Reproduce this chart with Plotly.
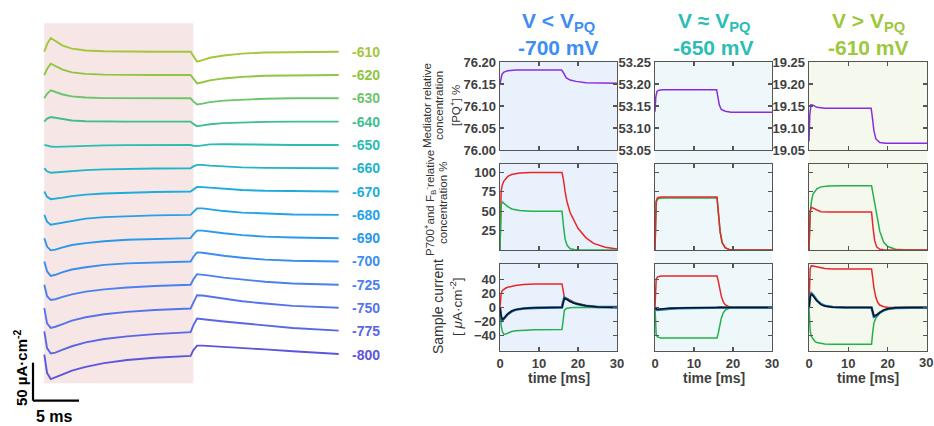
import plotly.graph_objects as go

W, H = 934, 426

# ---------------- Left panel: current traces (µA/cm², relative to baseline) ----------------
voltages = [-610, -620, -630, -640, -650, -660, -670, -680, -690, -700, -725, -750, -775, -800]
trace_colors = ["#a4c639", "#8ec641", "#6cc46c", "#3fbf8e", "#2bbdb0", "#22b5c8", "#1eaddb",
                "#23a3e6", "#2b98ea", "#3a8df0", "#4a80f0", "#5574ec", "#5a66e6", "#5c56dc"]
t_trace = [0, 0.3, 0.7, 1.2, 2, 3, 4.5, 6.5, 9, 12, 15.9, 16.2, 16.6, 17.2, 18, 19.5, 21.5, 24, 27, 32]
cur_m610 = [0, 10, 18, 14, 8, 4, 1.5, 0.5, 0, 0, 0, -6, -13, -11, -8, -5, -2.5, -1, -0.3, 0]
cur_m620 = [0, 8, 15, 12, 7, 3.5, 1.5, 0.5, 0, 0, 0, -5, -11, -9.5, -7, -4.5, -2.5, -1, -0.3, 0]
cur_m630 = [0, 6, 10.5, 8.5, 5, 2.5, 1, 0.3, 0, 0, 0, -4, -8, -7, -5, -3, -1.5, -0.5, 0, 0]
cur_m640 = [0, 4, 6, 5, 3, 1.5, 0.5, 0, 0, 0, 0, -3, -6, -5, -3.5, -2, -1, -0.3, 0, 0]
cur_m650 = [0, -1, -2, -2.5, -2.2, -1.5, -1, -0.6, -0.3, 0, 0, -1, -1.5, -0.5, 0.8, 1, 0.6, 0.3, 0, 0]
cur_m660 = [0, -4, -6, -5.5, -4.5, -3.5, -2.5, -1.5, -0.8, -0.3, 0, 2.5, 4.5, 4.5, 3.5, 2.2, 1.2, 0.5, 0.2, 0]
cur_m670 = [0, -7, -10, -9.5, -8, -6, -4, -2.5, -1.3, -0.5, 0, 3, 6, 5.8, 5, 3.5, 2, 1, 0.3, 0]
cur_m680 = [0, -9, -13, -12, -10, -7.5, -5, -3, -1.6, -0.6, 0, 4, 8.5, 8.5, 7, 5, 3, 1.5, 0.5, 0]
cur_m690 = [0, -11, -16, -15, -12, -9, -6.5, -4, -2, -0.8, 0, 5, 10, 10, 8.5, 6.5, 4, 2, 0.8, 0]
cur_m700 = [0, -13, -19, -17.5, -14, -10.5, -7.5, -4.5, -2.5, -1, 0, 6, 12, 11.5, 10, 7.5, 5, 2.5, 1, 0]
cur_m725 = [0, -15, -20, -19, -16, -12.5, -9, -6, -3.5, -1.5, 0, 7, 14, 13.5, 12, 9.5, 7, 4, 1.8, 0]
cur_m750 = [0, -20, -26, -24.5, -21, -16.5, -12, -8, -5, -2.5, -0.5, 8, 17, 16.5, 15, 12, 9, 6, 3, 0.5]
cur_m775 = [0, -22, -29, -28, -24, -19.5, -14.5, -10, -6.5, -3.5, -1, 8, 17, 16.5, 15, 13, 10.5, 7.5, 4.5, 1]
cur_m800 = [0, -24, -32, -30, -26, -21, -16, -11, -7, -4, -1.5, 6, 12, 12, 11.5, 10.5, 9, 7, 4.5, 1]
all_traces = [cur_m610, cur_m620, cur_m630, cur_m640, cur_m650, cur_m660, cur_m670,
              cur_m680, cur_m690, cur_m700, cur_m725, cur_m750, cur_m775, cur_m800]
pulse_ms = 16.2
scale_bar_uA = 50
scale_bar_ms = 5

# ---------------- Right panels ----------------
col_titles = ["V &lt; V<sub>PQ</sub>", "V ≈ V<sub>PQ</sub>", "V &gt; V<sub>PQ</sub>"]
col_mv = ["-700 mV", "-650 mV", "-610 mV"]
col_title_colors = ["#3d8ef2", "#2cbdb5", "#9dc83c"]
col_bg = ["#e9f2fc", "#eef8fa", "#f5f8ed"]

# Row 1: mediator [PQ+] %
t_med = [0, 0.2, 0.5, 1, 2, 4, 8, 15.8, 16.1, 16.5, 17, 18, 19.5, 22, 26, 30]
med_700 = [76.150, 76.163, 76.172, 76.177, 76.180, 76.182, 76.182, 76.182, 76.178, 76.170,
           76.164, 76.159, 76.156, 76.153, 76.152, 76.152]
med_650 = [53.137, 53.170, 53.183, 53.186, 53.187, 53.187, 53.187, 53.187, 53.172, 53.152,
           53.142, 53.138, 53.136, 53.136, 53.136, 53.136]
med_610 = [19.07, 19.13, 19.153, 19.152, 19.147, 19.145, 19.145, 19.145, 19.125, 19.094,
           19.075, 19.067, 19.065, 19.065, 19.065, 19.065]
med_ranges = [[75.9999, 76.2001], [53.0499, 53.2501], [19.0499, 19.2501]]
med_ticks = [[76.00, 76.05, 76.10, 76.15, 76.20], [53.05, 53.10, 53.15, 53.20, 53.25],
             [19.05, 19.10, 19.15, 19.20, 19.25]]

# Row 2: P700+ (red) and FB- (green) %
t_conc = [0, 0.1, 0.3, 0.6, 1, 2, 3, 5, 8, 15.9, 16.3, 16.7, 17.2, 18, 19, 20, 22, 24, 27, 30]
p700_700 = [0, 55, 76, 84, 89, 95, 97.5, 99.3, 100, 100, 90, 75, 62, 48, 37, 28, 16, 8.5, 3.5, 1.2]
fb_700 = [0, 40, 58, 62, 60, 56, 53, 51, 50, 50, 30, 14, 6, 1.5, 0.5, 0, 0, 0, 0, 0]
p700_650 = [0, 45, 63, 67, 68, 68.5, 68.5, 68.5, 68.5, 68.5, 46, 24, 10, 3, 0.8, 0.2, 0, 0, 0, 0]
fb_650 = [0, 44, 61, 65.5, 66.5, 67, 67, 67, 67, 67, 45, 23, 9.5, 2.8, 0.8, 0.2, 0, 0, 0, 0]
p700_610 = [0, 35, 50, 55, 54, 51, 49.5, 49, 49, 49, 28, 12, 4, 1, 0.2, 0, 0, 0, 0, 0]
fb_610 = [0, 25, 48, 62, 72, 79, 81.5, 82.5, 83, 83, 72, 58, 44, 24, 10, 4.5, 1, 0.2, 0, 0]

# Row 3: sample current µA/cm²
t_cur = [0, 0.1, 0.3, 0.6, 1, 1.5, 2, 3, 4, 6, 9, 15.9, 16.2, 16.5, 17, 17.5, 18, 19, 20, 22, 25, 30]
red_700 = [0, 12, 20, 24, 26, 27.5, 28.5, 30, 31, 32.5, 33.3, 33.3, 20, 14.5, 13, 11.5, 10, 7.5, 5.5, 3, 1, 0.2]
green_700 = [0, -14, -26, -34, -38, -37.5, -36, -34, -33, -32, -31.5, -31, -12, -4, -1.5, -0.7, -0.3, 0, 0, 0, 0, 0]
model_700 = [0, -6, -12, -17, -15.5, -12, -9, -5, -3, -1.5, -0.5, 0, 7, 13, 12, 10, 8.5, 6, 4.5, 2.5, 0.8, 0.1]
meas_700 = [0, -8, -14, -18, -16, -12.5, -9.5, -5.5, -3.2, -1.5, -0.5, 0.5, 8, 14, 12.5, 10.5, 9, 6.5, 4.5, 2.5, 0.8, 0.5]
red_650 = [0, 30, 40, 43, 44, 44.5, 44.5, 44.5, 44.5, 44.5, 44.5, 44.5, 38, 28, 16, 8, 4, 1, 0.3, 0, 0, 0]
green_650 = [0, -28, -38, -41.5, -42.5, -43, -43, -43, -43, -43, -43, -43, -37, -27, -15, -7.5, -3.8, -1, -0.3, 0, 0, 0]
model_650 = [0, -1, -2, -2.5, -2.5, -2.2, -2, -1.5, -1.2, -0.8, -0.4, 0, 0.3, 0.3, 0.2, 0.1, 0, 0, 0, 0, 0, 0]
meas_650 = [0, -2, -3, -3.5, -3.2, -3, -2.6, -2, -1.6, -1, -0.5, 0, 0.4, 0.5, 0.3, 0.1, 0, 0, 0, 0, 0, 0]
red_610 = [0, 40, 55, 59, 58.5, 57.5, 56.5, 55.5, 55, 54.5, 54.5, 54.5, 42, 28, 14, 7, 3.5, 1, 0.3, 0, 0, 0]
green_610 = [0, -20, -33, -41, -45, -48, -49.5, -51, -51.5, -52, -52, -52, -35, -22, -15, -11, -8, -4.5, -2.5, -0.7, 0, 0]
model_610 = [0, 8, 15, 19, 17, 13, 9.5, 4.5, 2, 0.5, 0, 0, -6, -12, -11, -9, -6.5, -3.5, -1.8, -0.5, 0, 0]
meas_610 = [0, 10, 17, 20, 18, 14, 10, 5, 2.5, 0.8, 0.2, 0, -7, -13, -12, -9.5, -7, -4, -2, -0.5, 0, 0]

x_ticks = [0, 10, 20, 30]
x_ticktext = ["0", "10", "20", "30"]
conc_ticks = [25, 50, 75, 100]
cur_ticks = [-40, -20, 0, 20, 40]

# ---------------- Layout geometry (pixels) ----------------
col_px = [(500, 617), (655, 772), (809, 927)]
row_px = [(62, 150), (164, 250), (264.3, 350.7)]
px_per_ms = 9.2
t0_px = 44.3
uA_per_px = 50 / 38.0
base0_px = 51.7
spacing_px = 23.31

def xdom(a, b):
    return [a / W, b / W]

def ydom(a, b):
    return [1 - b / H, 1 - a / H]

def px_x(p):
    return p / W

def px_y(p):
    return 1 - p / H

FONT = "Liberation Sans, Arial, sans-serif"

fig = go.Figure()

y_top = base0_px * uA_per_px
y_bot = -(H - base0_px) * uA_per_px
x_lo = -t0_px / px_per_ms
x_hi = (400 - t0_px) / px_per_ms
spacing_uA = spacing_px * uA_per_px

for i, (v, col, cur) in enumerate(zip(voltages, trace_colors, all_traces)):
    off = -i * spacing_uA
    fig.add_trace(go.Scatter(x=t_trace, y=[c + off for c in cur], mode="lines",
                             line=dict(color=col, width=1.9), xaxis="x", yaxis="y",
                             showlegend=False, hoverinfo="skip"))

layout = dict(
    width=W, height=H, margin=dict(l=0, r=0, t=0, b=0, pad=0, autoexpand=False),
    paper_bgcolor="white", plot_bgcolor="rgba(0,0,0,0)",
    showlegend=False,
    xaxis=dict(domain=[0, 400 / W], range=[x_lo, x_hi], visible=False, fixedrange=True),
    yaxis=dict(domain=[0, 1], range=[y_bot, y_top], visible=False, fixedrange=True),
)

shapes = []
annotations = []

shapes.append(dict(type="rect", xref="x", yref="y", x0=0, x1=pulse_ms,
                   y0=y_top - 383.3 * uA_per_px, y1=y_top - 23.3 * uA_per_px,
                   fillcolor="#f6e6e6", line=dict(width=0), layer="below"))

sb_x = (33 - t0_px) / px_per_ms
sb_y = y_top - 400.7 * uA_per_px
shapes.append(dict(type="line", xref="x", yref="y", x0=sb_x, x1=sb_x, y0=sb_y, y1=sb_y + scale_bar_uA,
                   line=dict(color="black", width=2.2)))
shapes.append(dict(type="line", xref="x", yref="y", x0=sb_x, x1=sb_x + scale_bar_ms, y0=sb_y, y1=sb_y,
                   line=dict(color="black", width=2.2)))
annotations.append(dict(text="<b>50 µA·cm<sup>-2</sup></b>", x=px_x(20), y=px_y(368), xref="paper", yref="paper",
                        textangle=-90, showarrow=False, font=dict(family=FONT, size=15, color="black"),
                        xanchor="center", yanchor="middle"))
annotations.append(dict(text="<b>5 ms</b>", x=px_x(54), y=px_y(416), xref="paper", yref="paper",
                        showarrow=False, font=dict(family=FONT, size=16, color="black"),
                        xanchor="center", yanchor="middle"))

label_t = (350 - t0_px) / px_per_ms
for i, (v, col) in enumerate(zip(voltages, trace_colors)):
    annotations.append(dict(text="<b>%d</b>" % v, x=label_t, y=-i * spacing_uA, xref="x", yref="y",
                            xanchor="left", yanchor="middle", showarrow=False,
                            font=dict(family=FONT, size=14, color=col)))

tickfont = dict(family=FONT, size=13, color="#404040", weight="bold")
axis_common = dict(showline=True, linecolor="#555555", linewidth=1.4, mirror="ticks", ticks="inside",
                   ticklen=4, tickwidth=1.1, tickcolor="#555555", showgrid=False, zeroline=False,
                   tickfont=tickfont, fixedrange=True, automargin=False, ticklabeloverflow="allow")

row_data = [
    [[("#8a2be2", t_med, med_700)], [("#8a2be2", t_med, med_650)], [("#8a2be2", t_med, med_610)]],
    [[("#e8262b", t_conc, p700_700), ("#22b14c", t_conc, fb_700)],
     [("#22b14c", t_conc, fb_650), ("#e8262b", t_conc, p700_650)],
     [("#22b14c", t_conc, fb_610), ("#e8262b", t_conc, p700_610)]],
    [[("#e8262b", t_cur, red_700), ("#22b14c", t_cur, green_700), ("#1f78c8", t_cur, meas_700), ("#111111", t_cur, model_700)],
     [("#e8262b", t_cur, red_650), ("#22b14c", t_cur, green_650), ("#1f78c8", t_cur, meas_650), ("#111111", t_cur, model_650)],
     [("#e8262b", t_cur, red_610), ("#22b14c", t_cur, green_610), ("#1f78c8", t_cur, meas_610), ("#111111", t_cur, model_610)]],
]

for r in range(3):
    for c in range(3):
        n = 2 + r * 3 + c
        ticktext = list(x_ticktext)
        if r == 2 and c == 2:
            ticktext[-1] = ""  # last label drawn as annotation (would be cut at figure edge)
        xa = dict(axis_common, domain=xdom(*col_px[c]), range=[0, 30], tickvals=x_ticks,
                  ticktext=ticktext, anchor="y%d" % n, showticklabels=(r == 2))
        if r == 0:
            ya = dict(axis_common, domain=ydom(*row_px[r]), range=med_ranges[c], tickvals=med_ticks[c],
                      tickformat=".2f", anchor="x%d" % n, showticklabels=True)
        elif r == 1:
            ya = dict(axis_common, domain=ydom(*row_px[r]), range=[0, 111], tickvals=conc_ticks,
                      anchor="x%d" % n, showticklabels=(c == 0))
        else:
            ya = dict(axis_common, domain=ydom(*row_px[r]), range=[-61, 61], tickvals=cur_ticks,
                      anchor="x%d" % n, showticklabels=(c == 0))
        layout["xaxis%d" % n] = xa
        layout["yaxis%d" % n] = ya
        for color, tx, vals in row_data[r][c]:
            width = 2.6 if color == "#1f78c8" else 1.5
            fig.add_trace(go.Scatter(x=tx, y=vals, mode="lines", line=dict(color=color, width=width),
                                     xaxis="x%d" % n, yaxis="y%d" % n, showlegend=False, hoverinfo="skip"))

# last x tick label of the right-most column
annotations.append(dict(text="<b>%s</b>" % x_ticktext[-1], x=px_x(925.5), y=px_y(362), xref="paper", yref="paper",
                        showarrow=False, xanchor="center", yanchor="middle",
                        font=dict(family=FONT, size=13, color="#404040")))

for c in range(3):
    shapes.append(dict(type="rect", xref="paper", yref="paper",
                       x0=px_x(col_px[c][0]), x1=px_x(col_px[c][1]),
                       y0=px_y(row_px[2][1]), y1=px_y(row_px[0][0]),
                       fillcolor=col_bg[c], line=dict(width=0), layer="below"))
    cx = px_x((col_px[c][0] + col_px[c][1]) / 2)
    annotations.append(dict(text="<b>%s</b>" % col_titles[c], x=cx, y=px_y(22), xref="paper", yref="paper",
                            showarrow=False, xanchor="center", yanchor="middle",
                            font=dict(family=FONT, size=21, color=col_title_colors[c])))
    annotations.append(dict(text="<b>%s</b>" % col_mv[c], x=cx, y=px_y(47), xref="paper", yref="paper",
                            showarrow=False, xanchor="center", yanchor="middle",
                            font=dict(family=FONT, size=21, color=col_title_colors[c])))
    annotations.append(dict(text="<b>time [ms]</b>", x=cx, y=px_y(378), xref="paper", yref="paper",
                            showarrow=False, xanchor="center", yanchor="middle",
                            font=dict(family=FONT, size=14, color="#404040")))

# row y-labels: one annotation per line (x centre px, y centre px, size)
ylabel_lines = [
    ("Mediator relative", 427, 106, 11.5),
    ("concentration", 439, 106, 11.5),
    ("[PQ<sup>+</sup>] %", 455, 106, 11.5),
    ("P700<sup>+</sup>and F<sub>B</sub><sup>-</sup>relative", 430, 203, 11.5),
    ("concentration %", 443, 203, 11.5),
    ("Sample current", 438, 307, 14),
    ("[ <i>μ</i>A·cm<sup>-2</sup>]", 456, 307, 13.5),
]
for txt, xp, yp, fs in ylabel_lines:
    annotations.append(dict(text=txt, x=px_x(xp), y=px_y(yp), xref="paper", yref="paper",
                            textangle=-90, showarrow=False, xanchor="center", yanchor="middle",
                            font=dict(family=FONT, size=fs, color="#333333")))

layout["shapes"] = shapes
layout["annotations"] = annotations
fig.update_layout(**layout)

fig.write_html("out.html", config={"displayModeBar": False, "staticPlot": True},
               post_script="document.body.style.margin='0';document.body.style.padding='0';document.body.style.overflow='hidden';")
